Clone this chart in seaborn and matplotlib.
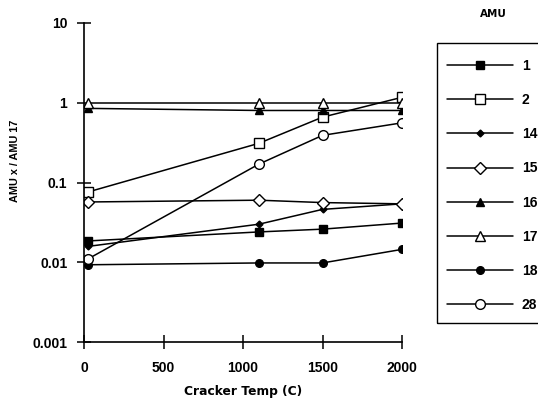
import matplotlib
matplotlib.use("Agg")
import matplotlib.pyplot as plt
from matplotlib.lines import Line2D
from matplotlib.patches import Rectangle
import seaborn as sns

# Cracker temperature (C) at which each ratio was measured
temps = [25, 1100, 1500, 2000]

# AMU x / AMU 17 ratios
amu_1 = [0.0185, 0.024, 0.026, 0.031]
amu_2 = [0.076, 0.31, 0.66, 1.17]
amu_14 = [0.0158, 0.030, 0.046, 0.054]
amu_15 = [0.057, 0.060, 0.056, 0.054]
amu_16 = [0.85, 0.80, 0.80, 0.80]
amu_17 = [1.0, 1.0, 1.0, 1.0]
amu_18 = [0.0093, 0.0098, 0.0098, 0.0145]
amu_28 = [0.011, 0.17, 0.39, 0.56]

series_labels = ["1", "2", "14", "15", "16", "17", "18", "28"]
series_values = [amu_1, amu_2, amu_14, amu_15, amu_16, amu_17, amu_18, amu_28]
# (marker, face colour, size)
series_styles = [
    ("s", "black", 5.5),
    ("s", "white", 7),
    ("D", "black", 3.5),
    ("D", "white", 6),
    ("^", "black", 5.5),
    ("^", "white", 7),
    ("o", "black", 5.5),
    ("o", "white", 7),
]

y_ticks = [0.001, 0.01, 0.1, 1, 10]
y_tick_labels = ["0.001", "0.01", "0.1", "1", "10"]
x_ticks = [0, 500, 1000, 1500, 2000]

sns.set_style("white")
plt.rcParams["font.family"] = ["Liberation Sans", "DejaVu Sans"]
plt.rcParams["font.weight"] = "bold"
plt.rcParams["text.color"] = "black"

W, H = 538, 404
fig = plt.figure(figsize=(W / 100, H / 100), dpi=100)
ax = fig.add_axes([84 / W, 62 / H, 318 / W, 319 / H])

handles = []
for lab, vals, (mk, fc, ms) in zip(series_labels, series_values, series_styles):
    sns.lineplot(x=temps, y=vals, ax=ax, color="black", lw=1.1,
                 marker=mk, markersize=ms, markerfacecolor=fc,
                 markeredgecolor="black", markeredgewidth=1.0,
                 legend=False)
    handles.append(Line2D([], [], color="black", lw=1.1, marker=mk,
                          markersize=ms, markerfacecolor=fc,
                          markeredgecolor="black", markeredgewidth=1.0,
                          label=lab))

ax.set_yscale("log")
ax.set_ylim(0.001, 10)
ax.set_xlim(0, 2000)
ax.set_yticks(y_ticks)
ax.set_yticklabels(y_tick_labels)
ax.yaxis.set_minor_locator(matplotlib.ticker.NullLocator())
ax.set_xticks(x_ticks)
ax.set_xticklabels([str(t) for t in x_ticks])

for side in ("top", "right"):
    ax.spines[side].set_visible(False)
for side in ("left", "bottom"):
    ax.spines[side].set_color("black")
    ax.spines[side].set_linewidth(1.2)

ax.tick_params(axis="both", which="major", direction="inout", length=10,
               width=1.1, color="black", labelcolor="black", labelsize=10,
               bottom=True, left=True)
ax.tick_params(axis="x", pad=9)
ax.tick_params(axis="y", pad=7)
for t in ax.get_xticklabels() + ax.get_yticklabels():
    t.set_fontweight("bold")

ax.set_xlabel("Cracker Temp (C)", fontsize=8.8, fontweight="bold",
              family="DejaVu Sans", color="black")
ax.xaxis.set_label_coords(0.5, -(392 - 342) / 319, transform=ax.transAxes)
ax.xaxis.label.set_va("center")
ax.set_ylabel("AMU x / AMU 17", fontsize=7.8, fontweight="bold",
              color="black")
ax.yaxis.set_label_coords(-(84 - 15) / 318, (342 - 161) / 319,
                          transform=ax.transAxes)
ax.yaxis.label.set_va("center")

# Legend entries without their own frame; the box is drawn separately
leg = fig.legend(handles=handles, loc="upper left",
                 bbox_to_anchor=(447 / W, 1 - 59 / H), borderaxespad=0,
                 borderpad=0, frameon=False,
                 handlelength=4.75, labelspacing=1.45,
                 handletextpad=0.65, prop={"weight": "bold", "size": 10})
for txt in leg.get_texts():
    txt.set_color("black")
fig.add_artist(Rectangle((437 / W, 1 - 323 / H), (545 - 437) / W, 280 / H,
                         transform=fig.transFigure, fill=False,
                         edgecolor="black", linewidth=1.0))
fig.text(493 / W, 1 - 14 / H, "AMU", ha="center", va="center",
         fontsize=7.5, fontweight="bold", family="DejaVu Sans")

fig.savefig("out.png", dpi=100)
